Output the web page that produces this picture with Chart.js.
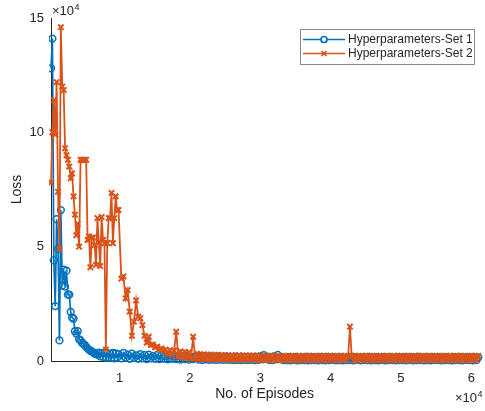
<!DOCTYPE html>
<html>
<head>
<meta charset="utf-8">
<script src="https://cdn.jsdelivr.net/npm/chart.js@4.4.1/dist/chart.umd.min.js"></script>
<style>
  html, body { margin: 0; padding: 0; background: #ffffff; }
  #wrap { width: 485px; height: 411px; }
</style>
</head>
<body>
<div id="wrap"><canvas id="c" width="485" height="411"></canvas></div>
<script>
// Episodes (x values)
const episodes = [
  250,450,650,850,1050,1250,1450,1650,1850,2050,2250,2450,2650,2850,3050,3250,3450,3650,3850,4050,
  4250,4450,4650,4850,5050,5250,5450,5650,5850,6050,6250,6450,6650,6850,7050,7250,7450,7650,7850,8050,
  8250,8450,8650,8850,9050,9250,9450,9650,9850,
  10250,10550,10850,11150,11450,11750,12050,12350,12650,12950,13250,13550,13850,14150,14450,14750,15050,15350,15650,15950,
  16250,16550,16850,17150,17450,17750,18050,18350,18650,18950,19250,19550,19850,20150,20450,20750,
  21000,21250,21500,21750,22000,22250,22500,22750,23000,23250,23500,23750,24000,24250,24500,24750,
  25000,25250,25500,25750,26000,26250,26500,26750,27000,27250,27500,27750,28000,28250,28500,28750,
  29000,29250,29500,29750,30000,30250,30500,30750,31000,31250,31500,31750,32000,32250,32500,32750,
  33000,33250,33500,33750,34000,34250,34500,34750,35000,35250,35500,35750,36000,36250,36500,36750,
  37000,37250,37500,37750,38000,38250,38500,38750,39000,39250,39500,39750,40000,40250,40500,40750,
  41000,41250,41500,41750,42000,42250,42500,42750,43000,43250,43500,43750,44000,44250,44500,44750,
  45000,45250,45500,45750,46000,46250,46500,46750,47000,47250,47500,47750,48000,48250,48500,48750,
  49000,49250,49500,49750,50000,50250,50500,50750,51000,51250,51500,51750,52000,52250,52500,52750,
  53000,53250,53500,53750,54000,54250,54500,54750,55000,55250,55500,55750,56000,56250,56500,56750,
  57000,57250,57500,57750,58000,58250,58500,58750,59000,59250,59500,59750,60000,60250,60500,60750,
  61000
];

// Loss values in units of 10^4
const lossSet1 = [
  12.8,14.1,4.4,2.4,6.2,4.9,0.9,6.6,3.3,4.0, 3.25,3.95,2.9,2.9,2.15,1.9,1.85,1.3,1.2,1.3,
  0.95,0.9,0.8,0.75,0.7,0.62,0.55,0.5,0.45,0.42, 0.38,0.33,0.3,0.28,0.36,0.2,0.34,0.18,0.36,0.15,
  0.34,0.16,0.32,0.14,0.35,0.12,0.33,0.15,0.3,
  0.12,0.35,0.15,0.28,0.1,0.32,0.14,0.25,0.1,0.3, 0.12,0.26,0.08,0.28,0.12,0.22,0.1,0.27,0.08,0.24,
  0.1,0.22,0.07,0.25,0.1,0.2,0.08,0.22,0.06,0.2, 0.08,0.22,0.06,0.18,0.08,0.2,
  0.22,0.06,0.2,0.05,0.21,0.07,0.19,0.05,0.2,0.06, 0.19,0.05,0.2,0.06,0.18,0.05,0.19,0.06,0.18,0.05,
  0.18,0.04,0.19,0.05,0.17,0.04,0.18,0.05,0.17,0.04, 0.18,0.05,0.17,0.04,0.18,0.05,0.2,0.08,0.26,0.1,
  0.18,0.05,0.17,0.04,0.2,0.08,0.27,0.1,0.17,0.04, 0.16,0.04,0.17,0.03,0.16,0.05,0.17,0.03,0.15,0.04,
  0.16,0.04,0.18,0.03,0.16,0.04,0.17,0.04,0.16,0.03, 0.17,0.04,0.16,0.03,0.18,0.04,0.16,0.05,0.17,0.03,
  0.16,0.04,0.17,0.03,0.15,0.04,0.17,0.04,0.16,0.03, 0.17,0.05,0.16,0.03,0.17,0.04,0.16,0.04,0.18,0.03,
  0.16,0.04,0.17,0.03,0.16,0.05,0.17,0.03,0.16,0.04, 0.17,0.04,0.15,0.03,0.17,0.04,0.16,0.04,0.17,0.03,
  0.16,0.05,0.17,0.03,0.16,0.04,0.18,0.04,0.16,0.03, 0.17,0.04,0.16,0.03,0.17,0.05,0.16,0.04,0.17,0.03,
  0.16,0.04,0.17,0.04,0.15,0.03,0.17,0.04,0.16,0.04, 0.17,0.03,0.16,0.05,0.17,0.04,0.16,0.03,0.17,0.04,
  0.16
];
const lossSet2 = [
  7.8,10.0,11.4,9.9,12.2,7.4,4.9,14.6,12.0,11.85, 9.3,9.0,8.8,8.5,8.0,8.2,7.2,6.4,5.5,6.0,
  5.0,8.8,8.8,8.8,8.8,8.8,5.3,5.45,4.1,5.4, 5.4,5.07,4.2,6.25,5.2,4.15,6.3,5.3,5.15,0.5,
  5.16,6.25,6.25,7.35,5.15,6.25,7.2,6.6,6.6,
  3.6,3.7,2.74,3.1,2.16,1.1,1.72,2.65,1.94,1.87, 1.57,1.1,0.8,1.06,0.7,0.72,0.6,0.63,0.5,0.55,
  0.45,0.5,0.3,0.48,0.25,0.45,1.28,0.2,0.42,0.15, 0.4,0.12,0.38,0.1,1.06,0.12,
  0.32,0.08,0.3,0.07,0.29,0.08,0.28,0.06,0.28,0.07, 0.27,0.06,0.27,0.06,0.26,0.05,0.26,0.06,0.25,0.05,
  0.25,0.05,0.24,0.04,0.25,0.05,0.24,0.04,0.23,0.05, 0.24,0.04,0.23,0.04,0.24,0.03,0.23,0.04,0.22,0.03,
  0.23,0.04,0.22,0.03,0.23,0.04,0.22,0.03,0.22,0.04, 0.22,0.03,0.23,0.04,0.22,0.03,0.22,0.04,0.23,0.03,
  0.22,0.04,0.22,0.03,0.23,0.04,0.22,0.03,0.22,0.04, 0.23,0.03,0.22,0.04,0.22,0.03,0.23,0.04,0.22,0.03,
  0.22,0.04,0.23,0.03,0.22,0.04,0.22,1.5,0.22,0.03, 0.23,0.04,0.22,0.03,0.22,0.04,0.23,0.03,0.22,0.04,
  0.22,0.03,0.23,0.04,0.22,0.03,0.22,0.04,0.23,0.03, 0.22,0.04,0.22,0.03,0.23,0.04,0.22,0.03,0.22,0.04,
  0.23,0.03,0.22,0.04,0.22,0.03,0.23,0.04,0.22,0.03, 0.22,0.04,0.23,0.03,0.22,0.04,0.22,0.03,0.23,0.04,
  0.22,0.03,0.22,0.04,0.23,0.03,0.22,0.04,0.22,0.03, 0.23,0.04,0.22,0.03,0.22,0.04,0.23,0.03,0.22,0.04,
  0.22
];

const seriesLabels = ['Hyperparameters-Set 1', 'Hyperparameters-Set 2'];
const xTicks = [10000, 20000, 30000, 40000, 50000, 60000];
const yTicks = [0, 5, 10, 15];

const BLUE = '#0072BD';
const ORANGE = '#D95319';
const TEXT = '#262626';
const FONT = "'Liberation Sans', Arial, Helvetica, sans-serif";

const pts = (ys) => episodes.map((x, i) => ({ x: x, y: ys[i] }));

const overlayPlugin = {
  id: 'overlay',
  afterDraw(chart) {
    const ctx = chart.ctx;
    ctx.save();
    ctx.fillStyle = TEXT;
    ctx.textBaseline = 'alphabetic';
    ctx.textAlign = 'left';
    const drawExp = (x, y) => {
      ctx.font = '13px ' + FONT;
      ctx.fillText('\u00d710', x, y);
      const w = ctx.measureText('\u00d710').width;
      ctx.font = '9px ' + FONT;
      ctx.fillText('4', x + w + 0.5, y - 5);
    };
    drawExp(52, 15);
    drawExp(455, 402);

    // legend
    const lx = 300.5, ly = 29.5, lw = 174, lh = 35;
    ctx.fillStyle = '#ffffff';
    ctx.fillRect(lx, ly, lw, lh);
    ctx.strokeStyle = '#8a8a8a';
    ctx.lineWidth = 1;
    ctx.strokeRect(lx, ly, lw, lh);
    const rows = [39.5, 53.5];
    const cols = [BLUE, ORANGE];
    chart.data.datasets.forEach((ds, i) => {
      const y = rows[i];
      ctx.strokeStyle = cols[i];
      ctx.lineWidth = 1.7;
      ctx.beginPath();
      ctx.moveTo(303, y);
      ctx.lineTo(345, y);
      ctx.stroke();
      const cx = 324;
      if (i === 0) {
        ctx.beginPath();
        ctx.arc(cx, y, 3, 0, Math.PI * 2);
        ctx.fillStyle = '#ffffff';
        ctx.fill();
        ctx.stroke();
      } else {
        ctx.beginPath();
        ctx.moveTo(cx - 2.5, y - 2.5); ctx.lineTo(cx + 2.5, y + 2.5);
        ctx.moveTo(cx - 2.5, y + 2.5); ctx.lineTo(cx + 2.5, y - 2.5);
        ctx.stroke();
      }
      ctx.fillStyle = TEXT;
      ctx.font = '12px ' + FONT;
      ctx.textBaseline = 'middle';
      ctx.fillText(ds.label, 348, y + 0.5);
    });
    ctx.restore();
  }
};

new Chart(document.getElementById('c'), {
  type: 'line',
  data: {
    datasets: [
      {
        label: seriesLabels[0],
        data: pts(lossSet1),
        borderColor: BLUE,
        borderWidth: 1.7,
        pointStyle: 'circle',
        pointRadius: 3.4,
        pointBorderWidth: 1.5,
        pointBorderColor: BLUE,
        pointBackgroundColor: 'rgba(0,0,0,0)',
        tension: 0,
        fill: false,
        clip: { left: 2, top: 8, right: 8, bottom: 8 },
        order: 2
      },
      {
        label: seriesLabels[1],
        data: pts(lossSet2),
        borderColor: ORANGE,
        borderWidth: 1.8,
        pointStyle: 'crossRot',
        pointRadius: 3.8,
        pointBorderWidth: 2,
        pointBorderColor: ORANGE,
        pointBackgroundColor: ORANGE,
        tension: 0,
        fill: false,
        clip: { left: 2, top: 8, right: 8, bottom: 8 },
        order: 1
      }
    ]
  },
  options: {
    responsive: false,
    animation: false,
    devicePixelRatio: 1,
    layout: { padding: { top: 18, right: 1, left: 0, bottom: 0 } },
    plugins: {
      legend: { display: false },
      tooltip: { enabled: false },
      title: { display: false }
    },
    scales: {
      x: {
        type: 'linear',
        min: 250,
        max: 61000,
        afterBuildTicks: (s) => { s.ticks = xTicks.map(v => ({ value: v })); },
        afterFit: (s) => { s.height = 50; },
        grid: { display: false, drawTicks: false },
        border: { display: true, color: TEXT, width: 1 },
        ticks: {
          color: TEXT,
          font: { family: FONT, size: 13 },
          padding: 10,
          maxRotation: 0,
          callback: (v) => String(v / 10000)
        },
        title: {
          display: true,
          text: 'No. of Episodes',
          color: TEXT,
          font: { family: FONT, size: 14 },
          padding: { top: 0, bottom: 8 }
        }
      },
      y: {
        type: 'linear',
        min: 0,
        max: 15,
        afterBuildTicks: (s) => { s.ticks = yTicks.map(v => ({ value: v })); },
        afterFit: (s) => { s.width = 51; },
        grid: { display: false, drawTicks: false },
        border: { display: true, color: TEXT, width: 1 },
        ticks: {
          color: TEXT,
          font: { family: FONT, size: 13 },
          padding: 7,
          callback: (v) => String(v)
        },
        title: {
          display: true,
          text: 'Loss',
          color: TEXT,
          font: { family: FONT, size: 14 },
          padding: { top: 9, bottom: 0 }
        }
      }
    }
  },
  plugins: [overlayPlugin]
});
</script>
</body>
</html>
